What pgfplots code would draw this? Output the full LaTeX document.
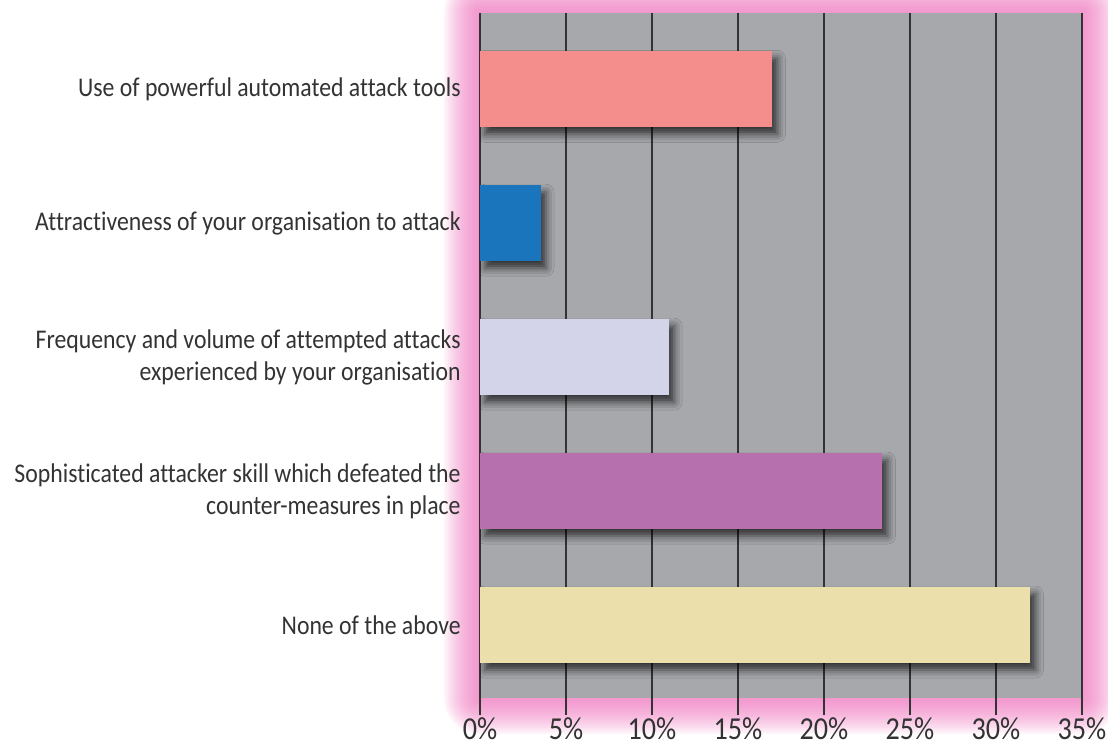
\documentclass[border=0pt]{standalone}
\usepackage{pgfplots}
\pgfplotsset{compat=1.18}
\usepackage{fontspec}
\setmainfont{Carlito}[FakeStretch=0.88, Ligatures=NoCommon]
\usetikzlibrary{shadows.blur}
\definecolor{bggray}{HTML}{A7A8AC}
\definecolor{glow}{HTML}{EE6FBA}
\definecolor{cA}{HTML}{F38E8D}
\definecolor{cB}{HTML}{1B75BC}
\definecolor{cC}{HTML}{D3D3E9}
\definecolor{cD}{HTML}{B570AD}
\definecolor{cE}{HTML}{EBE0AB}
\definecolor{txt}{HTML}{333333}
\begin{document}
\begin{tikzpicture}
\useasboundingbox (0,0) rectangle (554pt,373.5pt);
\foreach \i in {1,...,18}{
  \draw[glow, opacity=0.065, line width=2*\i pt, line join=round] (240pt,24.5pt) rectangle (541pt,367pt);
}
\begin{axis}[
  at={(240pt,24.5pt)}, anchor=south west,
  scale only axis, width=301pt, height=342.5pt,
  xmin=0, xmax=35, ymin=-0.57, ymax=4.545, y dir=reverse,
  xbar, bar width=38pt, bar shift=0pt,
  axis line style={draw=none},
  axis background/.style={fill=bggray},
  xtick={0,5,...,35},
  xticklabels={0\%,5\%,10\%,15\%,20\%,25\%,30\%,35\%},
  xtick pos=left, tick align=outside,
  major tick length=8.5pt,
  xmajorgrids, grid style={draw=black!80, line width=0.65pt},
  xtick style={draw=black!80, line width=0.65pt},
  xticklabel style={font=\fontsize{16}{18}\selectfont, text=txt, inner sep=1pt},
  ytick={0,1,2,3,4},
  ytick style={draw=none},
  yticklabels={Use of powerful automated attack tools,
    Attractiveness of your organisation to attack,
    {Frequency and volume of attempted attacks\\experienced by your organisation},
    {Sophisticated attacker skill which defeated the\\counter-measures in place},
    None of the above},
  yticklabel style={align=right, font=\fontsize{13.5}{16}\selectfont, text=txt, inner sep=0pt, xshift=-1pt},
  every axis plot/.append style={draw=none,
    blur shadow={shadow xshift=2.5pt, shadow yshift=-3.5pt, shadow blur radius=4pt, shadow opacity=70}},
]
\addplot[fill=cA] coordinates {(17.0,0)};
\addplot[fill=cB] coordinates {(3.55,1)};
\addplot[fill=cC] coordinates {(11.0,2)};
\addplot[fill=cD] coordinates {(23.4,3)};
\addplot[fill=cE] coordinates {(32.0,4)};
\end{axis}
\end{tikzpicture}
\end{document}
